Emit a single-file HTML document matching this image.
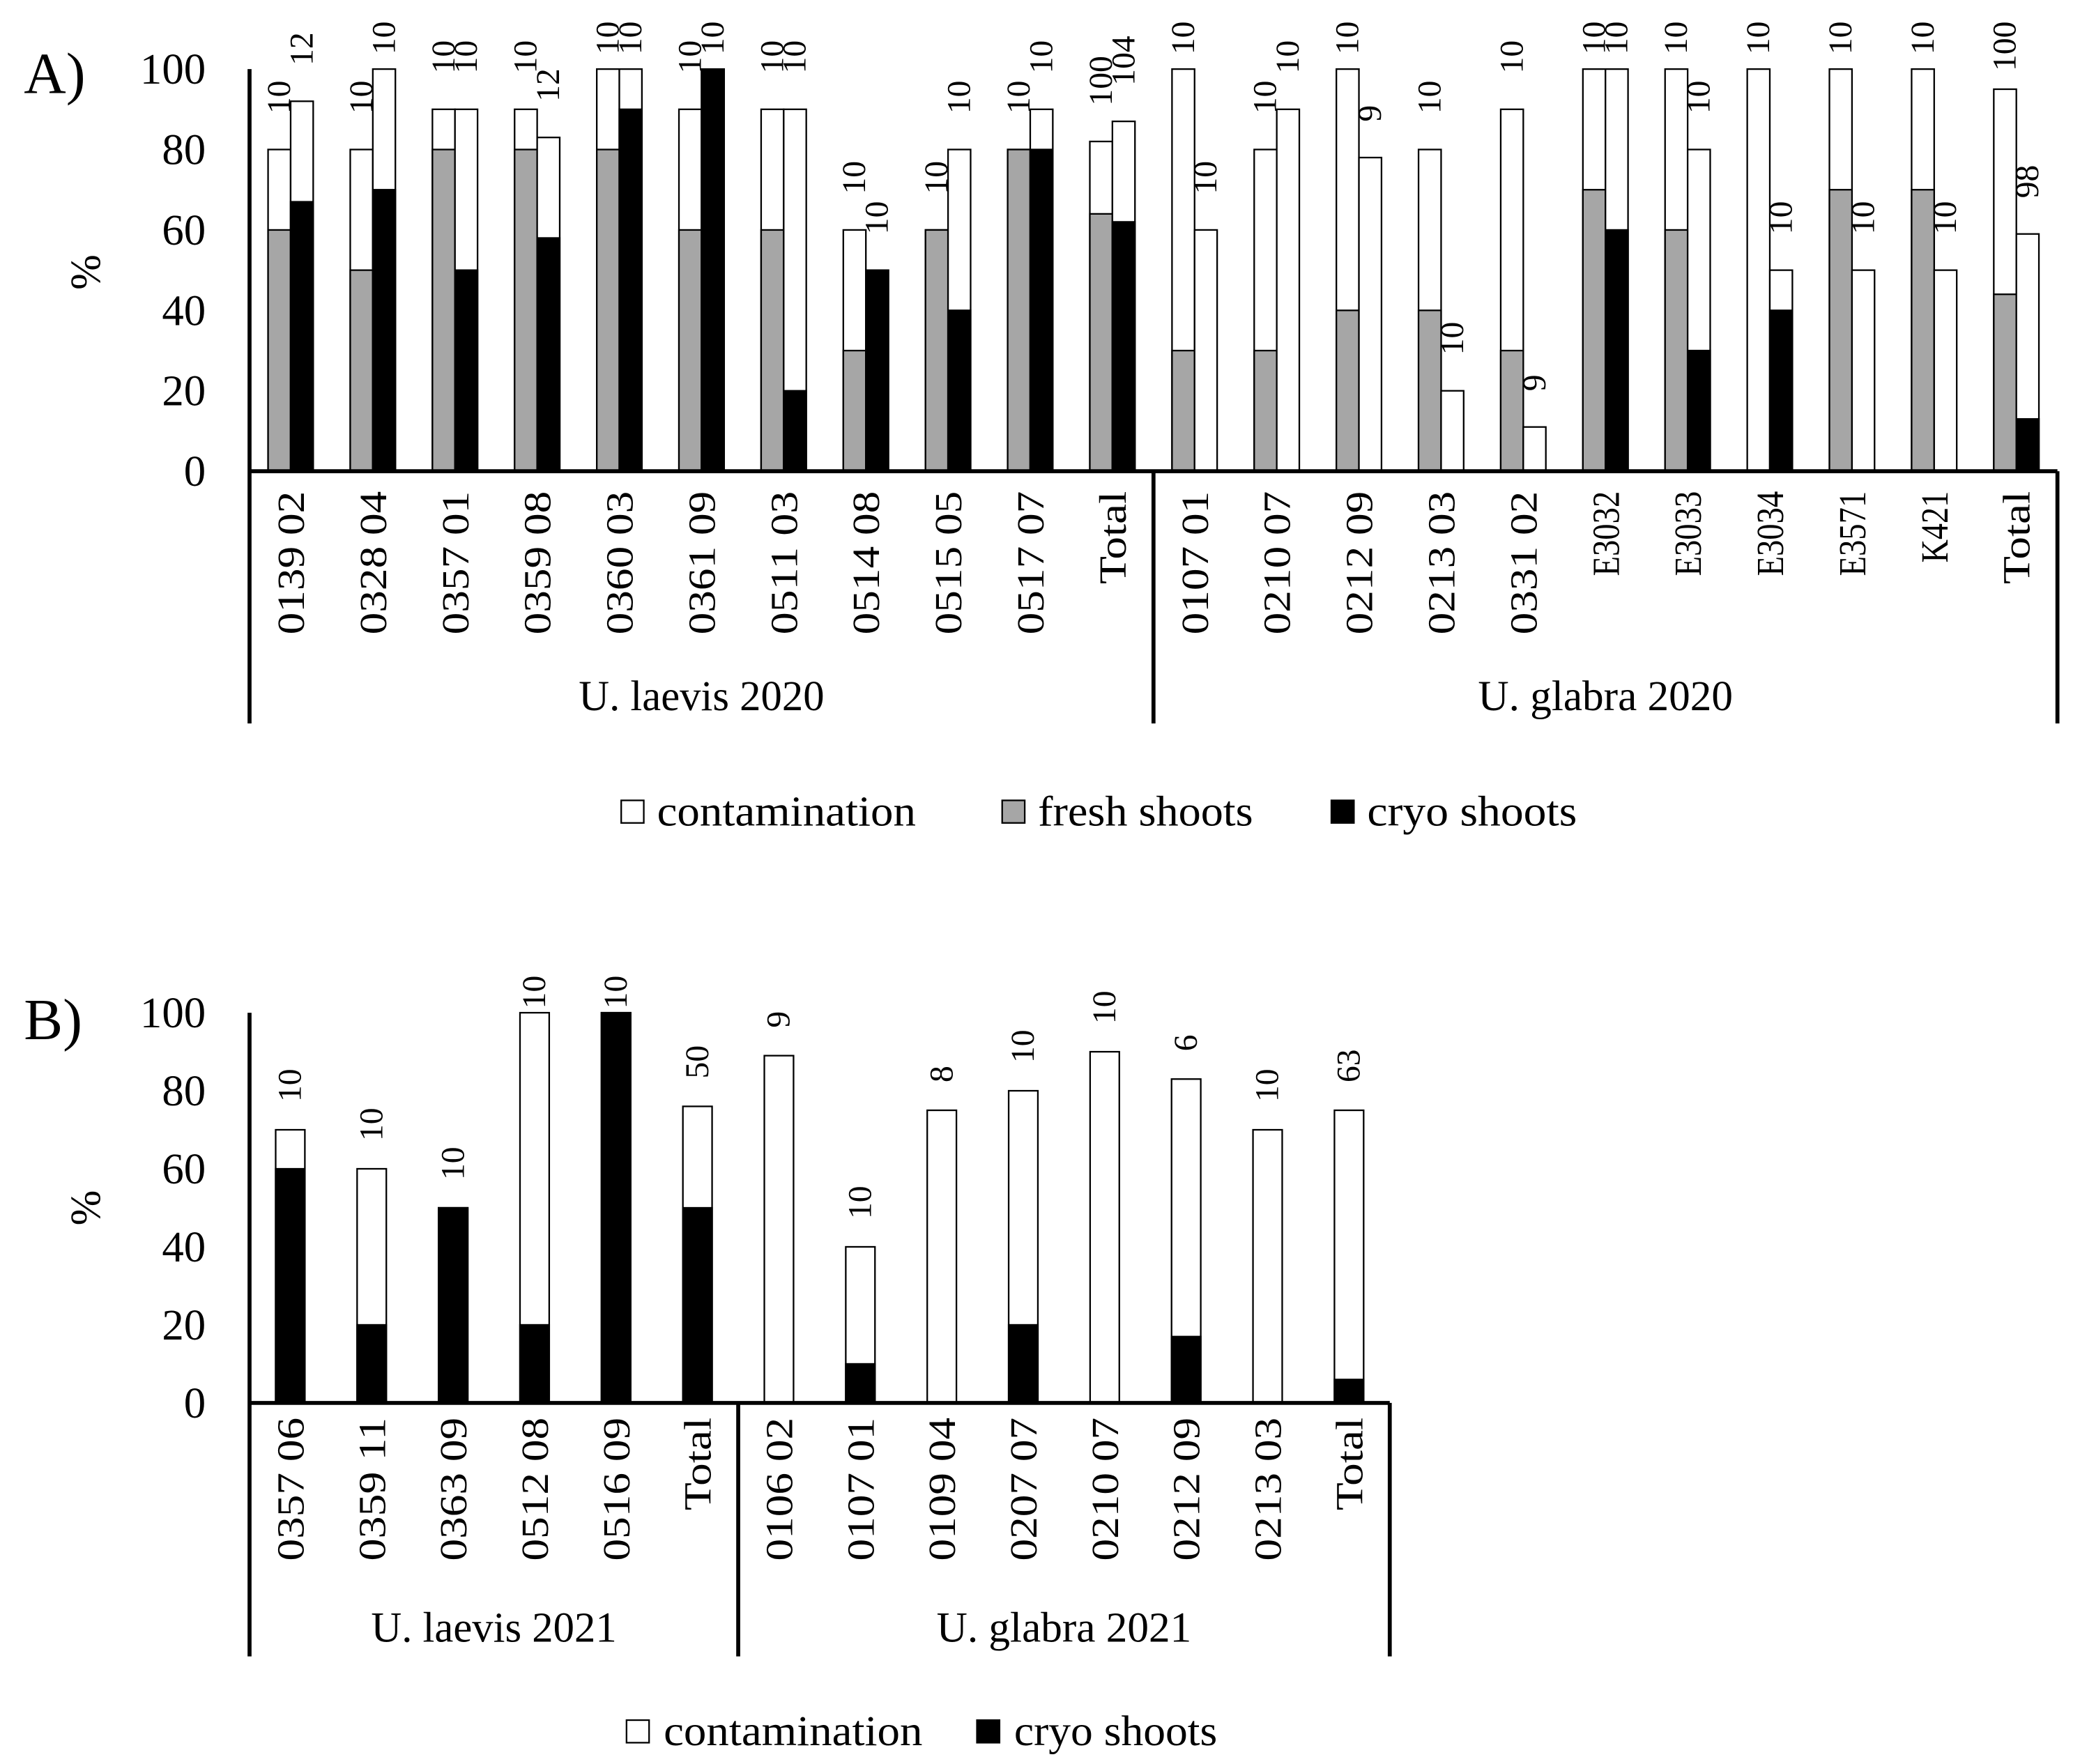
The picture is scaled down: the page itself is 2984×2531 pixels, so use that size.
<!DOCTYPE html>
<html><head><meta charset="utf-8"><style>
html,body{margin:0;padding:0;background:#fff;}
svg{display:block;font-family:"Liberation Serif",serif;}
</style></head><body>
<svg id="svg" width="2984" height="2531" viewBox="0 0 1567 1329" xmlns="http://www.w3.org/2000/svg">
<rect x="0" y="0" width="1567" height="1329" fill="#fff"/>
</svg>
<script>
const catsA = ["0139 02","0328 04","0357 01","0359 08","0360 03","0361 09","0511 03","0514 08","0515 05","0517 07","Total","0107 01","0210 07","0212 09","0213 03","0331 02","E3032","E3033","E3034","E3571","K421","Total"];
const freshTotalA = [80,80,90,90,100,90,90,60,60,80,82,100,80,100,80,90,100,100,100,100,100,95];
const freshShootsA = [60,50,80,80,80,60,60,30,60,80,64,30,30,40,40,30,70,60,0,70,70,44];
const cryoTotalA = [92,100,90,83,100,100,90,50,80,90,87,60,90,78,20,11,100,80,50,50,50,59];
const cryoShootsA = [67,70,50,58,90,100,20,50,40,80,62,0,0,0,0,0,60,30,40,0,0,13];
const nFreshA = ["10","10","10","10","10","10","10","10","10","10","100","10","10","10","10","10","10","10","10","10","10","100"];
const nCryoA = ["12","10","10","12","10","10","10","10","10","10","104","10","10","9","10","9","10","10","10","10","10","98"];
const catsB = ["0357 06","0359 11","0363 09","0512 08","0516 09","Total","0106 02","0107 01","0109 04","0207 07","0210 07","0212 09","0213 03","Total"];
const totalB = [70,60,50,100,100,76,89,40,75,80,90,83,70,75];
const cryoB = [60,20,50,20,100,50,0,10,0,20,0,17,0,6];
const nB = ["10","10","10","10","10","50","9","10","8","10","10","6","10","63"];
const yTicks = [0,20,40,60,80,100];

const svg = document.getElementById('svg');
const NS = "http://www.w3.org/2000/svg";
function mk(tag, attrs, parent){
  const e = document.createElementNS(NS, tag);
  for (const k in attrs) e.setAttribute(k, attrs[k]);
  (parent||svg).appendChild(e);
  return e;
}
function txt(s, attrs){ const t = mk('text', attrs); t.textContent = s; return t; }
function catLen(s){ return s === 'Total' ? 70 : (s.length === 5 ? 64 : (s.length === 4 ? 54 : 108)); }
function labelBottom(top, s, gap, minTop){ return Math.max(top - gap, minTop + s.length * 12.5); }

// ---------- Chart A ----------
const A = {x0:188, x1:1550, y0:355, y100:52};
const yA = v => A.y0 - (A.y0 - A.y100) * v / 100;
const cwA = (A.x1 - A.x0) / catsA.length;
const xA = i => A.x0 + cwA * i;
let e;
e = txt("A)", {x:18, y:70, 'font-size':44});


e = txt("%", {x:0, y:0, 'font-size':32, transform:'translate(75,205) rotate(-90)', 'text-anchor':'middle'});


yTicks.forEach(t => {
  const l = txt(String(t), {x:155, y:yA(t)+11, 'font-size':33, 'text-anchor':'end'});
  
  
});
catsA.forEach((c, i) => {
  const cx = xA(i) + cwA/2;
  const bw = 17;
  const lx = cx - bw, rx = cx;
  const b1 = mk('rect', {x:lx, y:yA(freshTotalA[i]), width:bw, height:yA(0)-yA(freshTotalA[i]), fill:'#fff', stroke:'#000', 'stroke-width':1.2});
  
  
  if (freshShootsA[i] > 0) {
    const b2 = mk('rect', {x:lx, y:yA(freshShootsA[i]), width:bw, height:yA(0)-yA(freshShootsA[i]), fill:'#a6a6a6', stroke:'#000', 'stroke-width':1.2});
    
    
  }
  const b3 = mk('rect', {x:rx, y:yA(cryoTotalA[i]), width:bw, height:yA(0)-yA(cryoTotalA[i]), fill:'#fff', stroke:'#000', 'stroke-width':1.2});
  
  
  if (cryoShootsA[i] > 0) {
    const b4 = mk('rect', {x:rx, y:yA(cryoShootsA[i]), width:bw, height:yA(0)-yA(cryoShootsA[i]), fill:'#000', stroke:'#000', 'stroke-width':1.2});
    
    
  }
  const n1 = txt(nFreshA[i], {x:0, y:0, 'font-size':25, transform:`translate(${lx+bw/2+8},${labelBottom(yA(freshTotalA[i]), nFreshA[i], 27, 16)}) rotate(-90)`});
  
  
  const n2 = txt(nCryoA[i], {x:0, y:0, 'font-size':25, transform:`translate(${rx+bw/2+8},${labelBottom(yA(cryoTotalA[i]), nCryoA[i], 27, 16)}) rotate(-90)`});
  
  
  const cl = txt(c, {x:0, y:0, 'font-size':29, 'text-anchor':'end', textLength:catLen(c), lengthAdjust:'spacingAndGlyphs', transform:`translate(${cx+10},370) rotate(-90)`});
  
  
});
e = mk('line', {x1:A.x0, y1:A.y100, x2:A.x0, y2:545, stroke:'#000', 'stroke-width':3});


e = mk('line', {x1:A.x0, y1:A.y0, x2:A.x1, y2:A.y0, stroke:'#000', 'stroke-width':3});


[xA(11), A.x1].forEach(x => {
  const s = mk('line', {x1:x, y1:A.y0, x2:x, y2:545, stroke:'#000', 'stroke-width':3});
  
  
});
e = txt("U. laevis 2020", {x:(A.x0+xA(11))/2, y:535, 'font-size':32, 'text-anchor':'middle', textLength:185, lengthAdjust:'spacingAndGlyphs'});


e = txt("U. glabra 2020", {x:(xA(11)+A.x1)/2, y:535, 'font-size':32, 'text-anchor':'middle', textLength:192, lengthAdjust:'spacingAndGlyphs'});


[[468,'#fff','contamination',195],[755,'#a6a6a6','fresh shoots',162],[1003,'#000','cryo shoots',158]].forEach(([x,f,s,w]) => {
  const r = mk('rect', {x:x, y:603, width:17, height:17, fill:f, stroke:'#000', 'stroke-width':1.2});
  
  
  const t = txt(s, {x:x+27, y:622, 'font-size':32, textLength:w, lengthAdjust:'spacingAndGlyphs'});
  
  
});

// ---------- Chart B ----------
const B = {x0:188, x1:1047, y0:1057, y100:763};
const yB = v => B.y0 - (B.y0 - B.y100) * v / 100;
const cwB = (B.x1 - B.x0) / catsB.length;
const xB = i => B.x0 + cwB * i;
e = txt("B)", {x:18, y:783, 'font-size':44});


e = txt("%", {x:0, y:0, 'font-size':32, transform:'translate(75,910) rotate(-90)', 'text-anchor':'middle'});


yTicks.forEach(t => {
  const l = txt(String(t), {x:155, y:yB(t)+11, 'font-size':33, 'text-anchor':'end'});
  
  
});
catsB.forEach((c, i) => {
  const cx = xB(i) + cwB/2;
  const bw = 22;
  const b1 = mk('rect', {x:cx-bw/2, y:yB(totalB[i]), width:bw, height:yB(0)-yB(totalB[i]), fill:'#fff', stroke:'#000', 'stroke-width':1.2});
  
  
  if (cryoB[i] > 0) {
    const b2 = mk('rect', {x:cx-bw/2, y:yB(cryoB[i]), width:bw, height:yB(0)-yB(cryoB[i]), fill:'#000', stroke:'#000', 'stroke-width':1.2});
    
    
  }
  const n = txt(nB[i], {x:0, y:0, 'font-size':25, transform:`translate(${cx+8},${labelBottom(yB(totalB[i]), nB[i], 21, 735)}) rotate(-90)`});
  
  
  const cl = txt(c, {x:0, y:0, 'font-size':29, 'text-anchor':'end', textLength:catLen(c), lengthAdjust:'spacingAndGlyphs', transform:`translate(${cx+10},1068) rotate(-90)`});
  
  
});
e = mk('line', {x1:B.x0, y1:B.y100, x2:B.x0, y2:1248, stroke:'#000', 'stroke-width':3});


e = mk('line', {x1:B.x0, y1:B.y0, x2:B.x1, y2:B.y0, stroke:'#000', 'stroke-width':3});


[xB(6), B.x1].forEach(x => {
  const s = mk('line', {x1:x, y1:B.y0, x2:x, y2:1248, stroke:'#000', 'stroke-width':3});
  
  
});
e = txt("U. laevis 2021", {x:(B.x0+xB(6))/2, y:1237, 'font-size':32, 'text-anchor':'middle', textLength:185, lengthAdjust:'spacingAndGlyphs'});


e = txt("U. glabra 2021", {x:(xB(6)+B.x1)/2, y:1237, 'font-size':32, 'text-anchor':'middle', textLength:192, lengthAdjust:'spacingAndGlyphs'});


[[472,'#fff','contamination',195],[736,'#000','cryo shoots',153]].forEach(([x,f,s,w]) => {
  const r = mk('rect', {x:x, y:1296, width:17, height:17, fill:f, stroke:'#000', 'stroke-width':1.2});
  
  
  const t = txt(s, {x:x+28, y:1315, 'font-size':32, textLength:w, lengthAdjust:'spacingAndGlyphs'});
  
  
});
</script>
</body></html>
